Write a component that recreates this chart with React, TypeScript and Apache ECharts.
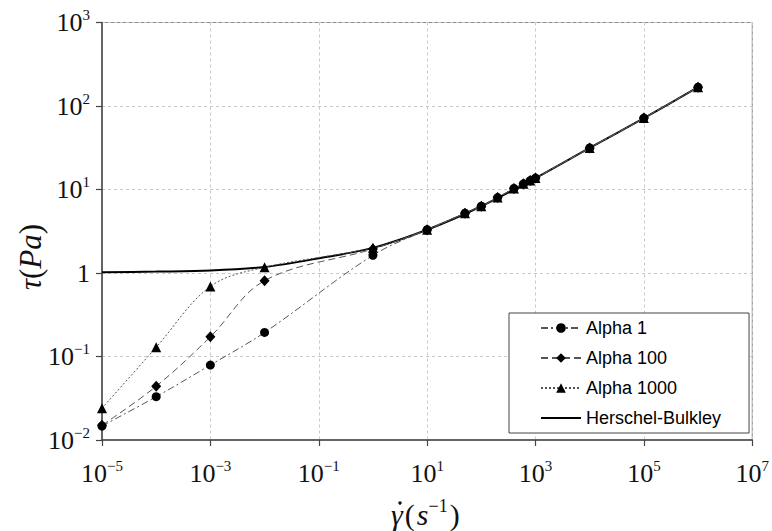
import React, { useEffect, useRef } from 'react';
import * as echarts from 'echarts';

// Shear rates (s^-1) of the simulated points, shared by the three Alpha series
const shearRates = [1e-5, 1e-4, 1e-3, 1e-2, 1, 10, 50, 100, 200, 400, 600, 800, 1000, 1e4, 1e5, 1e6];
const alpha1 = [0.0147, 0.033, 0.079, 0.194, 1.63, 3.3, 5.2, 6.3, 8.0, 10.3, 11.7, 12.8, 13.7, 31.5, 71.6, 168];
const alpha100 = [0.015, 0.044, 0.172, 0.81, 1.94, 3.3, 5.2, 6.3, 8.0, 10.3, 11.7, 12.8, 13.7, 31.5, 71.6, 168];
const alpha1000 = [0.024, 0.129, 0.69, 1.17, 2.0, 3.3, 5.2, 6.3, 8.0, 10.3, 11.7, 12.8, 13.7, 31.5, 71.6, 168];

// Herschel-Bulkley reference curve
const hbShear = [1e-5, 1e-4, 1e-3, 1e-2, 1e-1, 1, 10, 100, 1000, 1e4, 1e5, 1e6];
const hbStress = [1.02, 1.04, 1.07, 1.18, 1.5, 2.0, 3.3, 6.3, 13.7, 31.5, 71.6, 168];

const seriesNames = ['Alpha 1', 'Alpha 100', 'Alpha 1000', 'Herschel-Bulkley'];
const xTicks = [1e-5, 1e-3, 1e-1, 1e1, 1e3, 1e5, 1e7];
const yTicks = [1e-2, 1e-1, 1, 1e1, 1e2, 1e3];

const SERIF = '"Liberation Serif", "Times New Roman", serif';
const SANS = '"Liberation Sans", Arial, sans-serif';

const powLabel = (v: number) => {
  const e = Math.round(Math.log10(v));
  if (e === 0) return '{b|1}';
  const exp = e < 0 ? '\u2212' + -e : String(e);
  return `{b|10}{s|${exp}}`;
};

const labelRich = {
  b: { fontFamily: SERIF, fontSize: 26, lineHeight: 30, color: '#111', verticalAlign: 'middle' },
  s: { fontFamily: SERIF, fontSize: 15, lineHeight: 22, color: '#111', verticalAlign: 'top' },
};

const App: React.FC = () => {
  const ref = useRef<HTMLDivElement>(null);

  useEffect(() => {
    document.body.style.margin = '0';
    if (!ref.current) return;
    const chart = echarts.init(ref.current, null, { renderer: 'svg' });

    const pairs = (xs: number[], ys: number[]) => xs.map((x, i) => [x, ys[i]]);

    const option: any = {
      animation: false,
      backgroundColor: '#ffffff',
      grid: {
        left: 102,
        right: 14,
        top: 22.5,
        bottom: 91,
        show: true,
        borderColor: '#8a8a8a',
        borderWidth: 1,
      },
      xAxis: {
        type: 'log',
        logBase: 10,
        min: 1e-5,
        max: 1e7,
        axisLine: { show: true, lineStyle: { color: '#444', width: 1.5 } },
        axisTick: { show: true, inside: false, length: 6, lineStyle: { color: '#444', width: 1.2 }, customValues: xTicks },
        axisLabel: { customValues: xTicks, formatter: powLabel, rich: labelRich, margin: 18 },
        splitLine: { show: true, lineStyle: { color: '#c8c8c8', type: [3, 3], width: 1 } },
        minorTick: { show: false },
      },
      yAxis: {
        type: 'log',
        logBase: 10,
        min: 1e-2,
        max: 1e3,
        axisLine: { show: true, lineStyle: { color: '#444', width: 1.5 } },
        axisTick: { show: true, inside: false, length: 6, lineStyle: { color: '#444', width: 1.2 }, customValues: yTicks },
        axisLabel: { customValues: yTicks, formatter: powLabel, rich: labelRich, margin: 12 },
        splitLine: { show: true, lineStyle: { color: '#c8c8c8', type: [3, 3], width: 1 } },
      },
      legend: {
        orient: 'vertical',
        left: 509,
        top: 313,
        data: [
          { name: seriesNames[0] },
          { name: seriesNames[1] },
          { name: seriesNames[2] },
          { name: seriesNames[3], itemStyle: { color: 'rgba(0,0,0,0)', borderWidth: 0 } },
        ],
        itemWidth: 40,
        itemHeight: 12,
        itemGap: 12,
        padding: [6, 28, 6, 31],
        borderColor: '#444',
        borderWidth: 1,
        borderRadius: 0,
        backgroundColor: '#ffffff',
        textStyle: { fontFamily: SANS, fontSize: 18, color: '#000' },
      },
      graphic: [
        {
          type: 'text',
          x: 30,
          y: 257,
          rotation: Math.PI / 2,
          style: {
            text: '{i|\u03c4}{n|(}{i|Pa}{n|)}',
            align: 'center',
            verticalAlign: 'middle',
            rich: {
              i: { fontFamily: SERIF, fontStyle: 'italic', fontSize: 31, fill: '#111' },
              n: { fontFamily: SERIF, fontSize: 31, fill: '#111' },
            },
          },
        },
        {
          type: 'text',
          x: 391,
          y: 514,
          style: {
            text: '{i|\u03b3}{n|(}{i|s}{sup|\u22121}{n|)}',
            align: 'left',
            verticalAlign: 'middle',
            rich: {
              i: { fontFamily: SERIF, fontStyle: 'italic', fontSize: 30, lineHeight: 34, fill: '#111', verticalAlign: 'middle' },
              n: { fontFamily: SERIF, fontSize: 30, lineHeight: 34, fill: '#111', verticalAlign: 'middle', padding: [0, 2, 0, 2] },
              sup: { fontFamily: SERIF, fontSize: 18, lineHeight: 22, fill: '#111', verticalAlign: 'top' },
            },
          },
        },
        {
          // the "dot" of gamma-dot (time derivative accent)
          type: 'circle',
          shape: { cx: 400, cy: 503, r: 1.7 },
          style: { fill: '#111' },
        },
      ],
      series: [
        {
          name: seriesNames[0],
          type: 'line',
          data: pairs(shearRates, alpha1),
          symbol: 'circle',
          symbolSize: 9,
          smooth: 0.35,
          itemStyle: { color: '#000' },
          lineStyle: { color: '#555', width: 1, type: [7, 3, 2, 3] },
          z: 3,
        },
        {
          name: seriesNames[1],
          type: 'line',
          data: pairs(shearRates, alpha100),
          symbol: 'diamond',
          symbolSize: [10, 11],
          smooth: 0.35,
          itemStyle: { color: '#000' },
          lineStyle: { color: '#555', width: 1, type: [7, 4] },
          z: 3,
        },
        {
          name: seriesNames[2],
          type: 'line',
          data: pairs(shearRates, alpha1000),
          symbol: 'triangle',
          symbolSize: 10,
          smooth: 0.35,
          itemStyle: { color: '#000' },
          lineStyle: { color: '#555', width: 1, type: [2, 2] },
          z: 3,
        },
        {
          name: seriesNames[3],
          type: 'line',
          data: pairs(hbShear, hbStress),
          symbol: 'none',
          smooth: 0.3,
          itemStyle: { color: '#000' },
          lineStyle: { color: '#000', width: 2, type: 'solid' },
          z: 2,
        },
      ],
    };

    chart.setOption(option);
    return () => chart.dispose();
  }, []);

  return <div ref={ref} style={{ width: 772, height: 531 }} />;
};

export default App;
